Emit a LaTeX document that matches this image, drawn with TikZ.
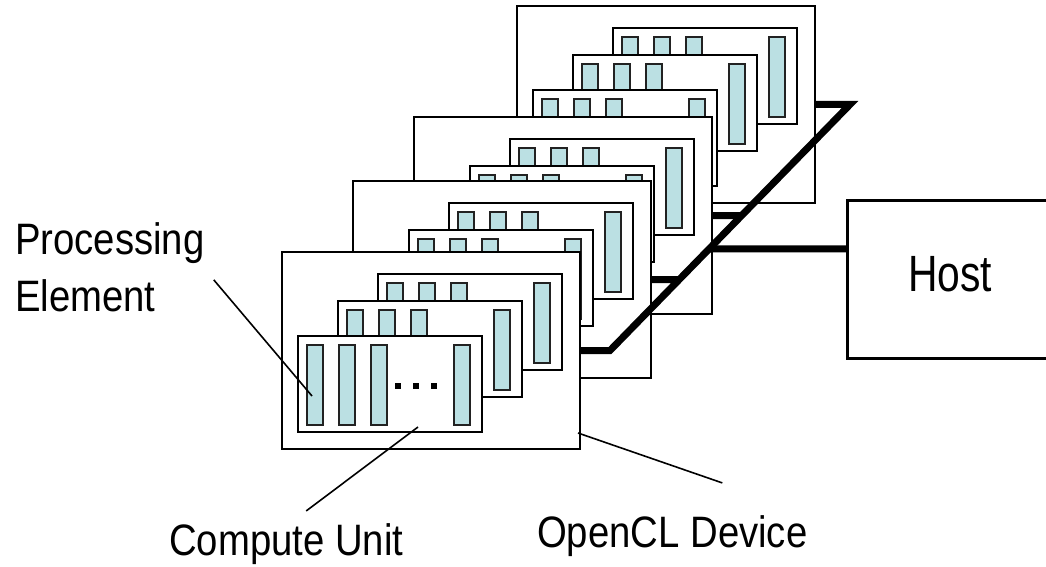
\documentclass[tikz,border=0pt]{standalone}
\usepackage{fontspec}
\setmainfont{Liberation Sans}
\newfontfamily\lblfont[FakeStretch=0.87]{Liberation Sans}
\newfontfamily\hostfont[FakeStretch=0.80]{Liberation Sans}
\usepackage{tikz}
\usetikzlibrary{calc,intersections}
\definecolor{pefill}{HTML}{BBE0E3}
\definecolor{peline}{HTML}{222222}
\tikzset{
  device/.style={draw=black, fill=white, line width=1.5pt, minimum width=298pt, minimum height=197pt, inner sep=0pt, outer sep=0pt, anchor=north west},
  unit/.style={draw=black, fill=white, line width=1.5pt, minimum width=184pt, minimum height=96pt, inner sep=0pt, outer sep=0pt, anchor=north west},
  pe/.style={draw=peline, fill=pefill, line width=1.5pt, minimum width=16pt, minimum height=80pt, inner sep=0pt, outer sep=0pt, anchor=north west},
  hostbox/.style={draw=black, fill=white, line width=3pt, minimum width=206pt, minimum height=158pt, inner sep=0pt, outer sep=0pt, text depth=10pt, font=\hostfont\fontsize{51}{60}\selectfont},
  bus/.style={draw=black, line width=7pt},
  leader/.style={draw=black, line width=1.6pt},
  lbl/.style={inner sep=0pt, font=\lblfont\fontsize{44}{57}\selectfont}
}
\begin{document}
\begin{tikzpicture}[x=1pt, y=-1pt]
  \useasboundingbox (0,0) rectangle (1046,567);
  \clip (0,0) rectangle (1046,567);

  % devices, back to front
  \foreach \d/\x/\y in {4/517/6, 3/414/117, 2/353/181, 1/282/252} {
    \node[device] (dev\d) at (\x,\y) {};
    \foreach \k/\dx/\dy in {3/96/22, 2/56/49, 1/16/84} {
      \node[unit] (cu\d\k) at (\x+\dx,\y+\dy) {};
      \foreach \p/\px in {1/9, 2/41, 3/73, 4/156}
        \node[pe] (pe\d\k\p) at ($(cu\d\k.north west)+(\px,9)$) {};
    }
    \foreach \q in {97,115,133}
      \fill ($(cu\d1.north west)+(\q,47)$) rectangle ++(5.5,6);
  }

  % host
  \node[hostbox] (host) at (950,279) {Host};
  \coordinate (hostIn) at ($(host.north west)!0.31!(host.south west)$);

  % bus
  \coordinate (busA) at ($(dev1.east)+(30,0)$);
  \coordinate (busB) at ($(dev4.east)+(35,0)$);
  \path[name path=diag] (busA) -- (busB);
  \path[name path=row2] (dev2.east) -- ++(200,0);
  \path[name path=row3] (dev3.east) -- ++(200,0);
  \path[name path=rowH] (hostIn) -- ++(-250,0);
  \path[name intersections={of=diag and row2, by=j2}];
  \path[name intersections={of=diag and row3, by=j3}];
  \path[name intersections={of=diag and rowH, by=jH}];
  \draw[bus] (dev1.east) -- (busA) -- (busB) -- (dev4.east);
  \draw[bus] (dev2.east) -- (j2);
  \draw[bus] (dev3.east) -- (j3);
  \draw[bus] (jH) -- (hostIn);

  % labels
  \node[lbl, anchor=north west, align=left] (pelbl) at (15,222) {Processing\\Element};
  \node[lbl, anchor=base west] (culbl) at (169,555) {Compute Unit};
  \node[lbl, anchor=base west] (devlbl) at (537,547) {OpenCL Device};

  \coordinate (peTip) at (312,396);
  \coordinate (cuTip) at (418,427);
  \coordinate (devTip) at (578,433);
  \draw[leader] ($(pelbl.east)+(9,13)$) -- (peTip);
  \draw[leader] ($(culbl.north)+(20,-12)$) -- (cuTip);
  \draw[leader] ($(devlbl.north)+(50,-32)$) -- (devTip);
\end{tikzpicture}
\end{document}
